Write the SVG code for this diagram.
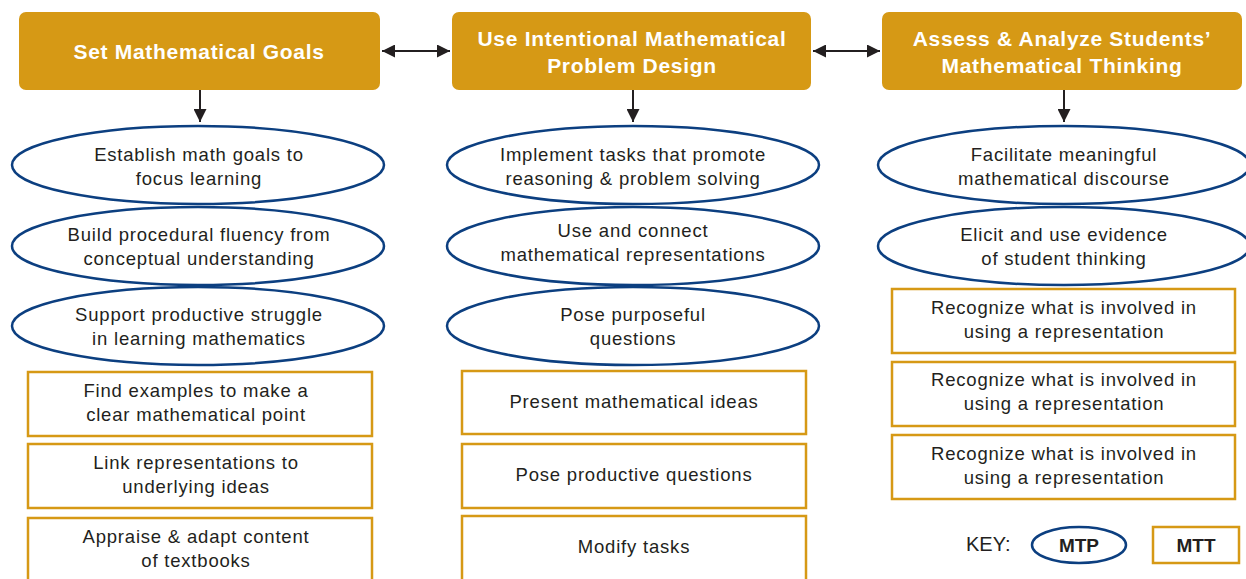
<svg xmlns="http://www.w3.org/2000/svg" width="1246" height="579" viewBox="0 0 1246 579">
<defs>
<marker id="ah" viewBox="0 0 10 10" refX="10" refY="5" markerWidth="6.5" markerHeight="6.5" orient="auto-start-reverse" markerUnits="strokeWidth">
<path d="M0,0 L10,5 L0,10 z" fill="#231f20"/>
</marker>
<style>
.hdr{fill:#D69915}
.ht{font-family:"Liberation Sans",Arial,sans-serif;font-weight:bold;font-size:21px;fill:#fff;text-anchor:middle;letter-spacing:0.7px}
.mtp{fill:#fff;stroke:#0C3F80;stroke-width:2.5}
.mtt{fill:#fff;stroke:#D69915;stroke-width:2.5}
.t{font-family:"Liberation Sans",Arial,sans-serif;font-size:18.5px;fill:#231f20;text-anchor:middle;letter-spacing:0.8px}
.kb{font-family:"Liberation Sans",Arial,sans-serif;font-size:19px;font-weight:bold;fill:#231f20;text-anchor:middle}
.c{stroke:#231f20;stroke-width:2;fill:none}
</style>
</defs>
<rect width="1246" height="579" fill="#fff"/>
<g id="connectors">
<line class="c" x1="200" y1="90" x2="200" y2="122" marker-end="url(#ah)"/>
<line class="c" x1="633" y1="90" x2="633" y2="122" marker-end="url(#ah)"/>
<line class="c" x1="1064" y1="90" x2="1064" y2="122" marker-end="url(#ah)"/>
<line class="c" x1="382" y1="51" x2="450" y2="51" marker-start="url(#ah)" marker-end="url(#ah)"/>
<line class="c" x1="813" y1="51" x2="880" y2="51" marker-start="url(#ah)" marker-end="url(#ah)"/>
</g>
<g id="h1"><rect class="hdr" x="19" y="12" width="361" height="78" rx="7"/><text class="ht" x="199" y="59">Set Mathematical Goals</text></g>
<g id="h2"><rect class="hdr" x="452" y="12" width="359" height="78" rx="7"/><text class="ht" x="632" y="46">Use Intentional Mathematical</text><text class="ht" x="632" y="73">Problem Design</text></g>
<g id="h3"><rect class="hdr" x="882" y="12" width="360" height="78" rx="7"/><text class="ht" x="1062" y="46">Assess &amp; Analyze Students’</text><text class="ht" x="1062" y="73">Mathematical Thinking</text></g>

<g id="e11"><ellipse class="mtp" cx="198" cy="165" rx="186" ry="39"/><text class="t" x="199" y="161">Establish math goals to</text><text class="t" x="199" y="185">focus learning</text></g>
<g id="e12"><ellipse class="mtp" cx="198" cy="246" rx="186" ry="39"/><text class="t" x="199" y="241">Build procedural fluency from</text><text class="t" x="199" y="265">conceptual understanding</text></g>
<g id="e13"><ellipse class="mtp" cx="198" cy="326" rx="186" ry="39"/><text class="t" x="199" y="321">Support productive struggle</text><text class="t" x="199" y="345">in learning mathematics</text></g>

<g id="e21"><ellipse class="mtp" cx="633" cy="165" rx="186" ry="39"/><text class="t" x="633" y="161">Implement tasks that promote</text><text class="t" x="633" y="185">reasoning &amp; problem solving</text></g>
<g id="e22"><ellipse class="mtp" cx="633" cy="246" rx="186" ry="39"/><text class="t" x="633" y="237">Use and connect</text><text class="t" x="633" y="261">mathematical representations</text></g>
<g id="e23"><ellipse class="mtp" cx="633" cy="326" rx="186" ry="39"/><text class="t" x="633" y="321">Pose purposeful</text><text class="t" x="633" y="345">questions</text></g>

<g id="e31"><ellipse class="mtp" cx="1064" cy="165" rx="186" ry="39"/><text class="t" x="1064" y="161">Facilitate meaningful</text><text class="t" x="1064" y="185">mathematical discourse</text></g>
<g id="e32"><ellipse class="mtp" cx="1064" cy="246" rx="186" ry="39"/><text class="t" x="1064" y="241">Elicit and use evidence</text><text class="t" x="1064" y="265">of student thinking</text></g>

<g id="r11"><rect class="mtt" x="28" y="372" width="344" height="64"/><text class="t" x="196" y="397">Find examples to make a</text><text class="t" x="196" y="421">clear mathematical point</text></g>
<g id="r12"><rect class="mtt" x="28" y="444" width="344" height="64"/><text class="t" x="196" y="469">Link representations to</text><text class="t" x="196" y="493">underlying ideas</text></g>
<g id="r13"><rect class="mtt" x="28" y="518" width="344" height="70"/><text class="t" x="196" y="543">Appraise &amp; adapt content</text><text class="t" x="196" y="567">of textbooks</text></g>

<g id="r21"><rect class="mtt" x="462" y="371" width="344" height="63"/><text class="t" x="634" y="408">Present mathematical ideas</text></g>
<g id="r22"><rect class="mtt" x="462" y="444" width="344" height="64"/><text class="t" x="634" y="481">Pose productive questions</text></g>
<g id="r23"><rect class="mtt" x="462" y="516" width="344" height="72"/><text class="t" x="634" y="553">Modify tasks</text></g>

<g id="r31"><rect class="mtt" x="892" y="289" width="343" height="64"/><text class="t" x="1064" y="314">Recognize what is involved in</text><text class="t" x="1064" y="338">using a representation</text></g>
<g id="r32"><rect class="mtt" x="892" y="362" width="343" height="64"/><text class="t" x="1064" y="386">Recognize what is involved in</text><text class="t" x="1064" y="410">using a representation</text></g>
<g id="r33"><rect class="mtt" x="892" y="435" width="343" height="64"/><text class="t" x="1064" y="460">Recognize what is involved in</text><text class="t" x="1064" y="484">using a representation</text></g>

<g id="key">
<text x="966" y="551" style="font-family:'Liberation Sans',Arial,sans-serif;font-size:20px;fill:#231f20">KEY:</text>
<ellipse class="mtp" cx="1079" cy="545" rx="47" ry="18"/><text class="kb" x="1079" y="552">MTP</text>
<rect class="mtt" x="1153" y="527" width="86" height="36"/><text class="kb" x="1196" y="552">MTT</text>
</g>
</svg>
